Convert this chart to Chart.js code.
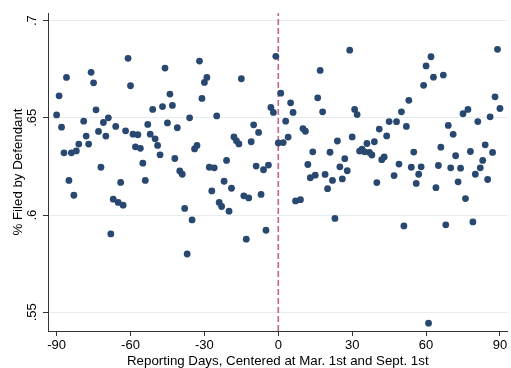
<!DOCTYPE html>
<html>
<head>
<meta charset="utf-8">
<script src="https://cdn.jsdelivr.net/npm/chart.js@4/dist/chart.umd.min.js"></script>
<style>
  html, body { margin: 0; padding: 0; background: #fff; }
  #wrap { width: 511px; height: 368px; }
</style>
</head>
<body>
<div id="wrap"><canvas id="filedChart" width="511" height="368"></canvas></div>
<script>
// reporting day relative to Mar. 1st / Sept. 1st
const days = [
    -90, -89, -88, -87, -86, -85, -84, -83, -82, -81, -79, -78, -77, -76, -75, -74,
    -73, -72, -71, -70, -69, -68, -67, -66, -65, -64, -63, -62, -61, -60, -59, -58,
    -57, -56, -55, -54, -53, -52, -51, -50, -49, -48, -47, -46, -45, -44, -43, -42,
    -41, -40, -39, -38, -37, -36, -35, -34, -33, -32, -31, -30, -29, -28, -27, -26,
    -25, -24, -23, -22, -21, -20, -19, -18, -17, -16, -15, -14, -13, -12, -11, -10,
    -9, -8, -7, -6, -5, -4, -3, -2, -1, 0,
    1, 2, 3, 4, 5, 6, 7, 9, 10, 11, 12, 13, 14, 15, 16, 17, 18, 19, 20, 21,
    22, 23, 24, 25, 26, 27, 28, 29, 30, 31, 32, 33, 34, 35, 36, 37, 38, 39, 40, 41,
    42, 43, 44, 45, 47, 48, 49, 50, 51, 52, 53, 54, 55, 56, 57, 58, 59, 60, 61, 62,
    63, 64, 65, 66, 67, 68, 69, 70, 71, 72, 73, 74, 75, 76, 77, 78, 79, 80, 81, 82,
    83, 84, 85, 86, 87, 88, 89, 90
];

// share of cases filed by the defendant on each day
const filedShare = [
    .6515, .6613, .6452, .632, .6708, .6178, .632, .6102, .633, .6365, .6483, .6406, .6365, .6734, .668, .6541,
    .643, .6246, .6476, .6406, .65, .5903, .6082, .6456, .6065, .6168, .6051, .6433, .6806, .6665, .6416, .6351,
    .6413, .6343, .6267, .6178, .6466, .6416, .6543, .6392, .6358, .631, .6558, .6756, .6474, .6622, .6564, .6291,
    .6449, .6227, .621, .6034, .58, .65, .5975, .634, .6358, .6792, .66, .6682, .6708, .6246, .6124, .6243,
    .651, .6065, .6044, .6174, .6281, .602, .6138, .6402, .6382, .6366, .6701, .6099, .5876, .6088, .6377, .6464,
    .6252, .6425, .6106, .6233, .5922, .6257, .6553, .6528, .6816, .6371,
    .6627, .6373, .6483, .6401, .6577, .6528, .6073, .6079, .6445, .6431, .626, .6192, .6325, .6205, .6603, .6744, .6531, .6209, .6136, .6323,
    .6178, .5983, .6381, .6248, .6186, .629, .6228, .6848, .6402, .6543, .6517, .6329, .6339, .6325, .6368, .6322, .6309, .6377, .6167, .6442,
    .6285, .6299, .6407, .6481, .6203, .648, .6262, .6531, .5944, .6456, .659, .6246, .6324, .6163, .621, .6248, .6667, .6767, .5444, .6814,
    .6709, .6141, .6255, .6349, .672, .595, .6461, .6243, .6415, .6305, .6171, .6241, .6521, .6085, .6543, .6327, .5965, .621, .6481, .6243,
    .6281, .6361, .6183, .6505, .6322, .6608, .6852, .6548
];

const xTicks = [-90, -60, -30, 0, 30, 60, 90];
const yTicks = [.55, .6, .65, .7];
const yTickLabels = ['.55', '.6', '.65', '.7'];

const xMin = -93.5, xMax = 93.1;
const yMin = .5404, yMax = .7039;

const font = { family: '"Liberation Sans", Arial, sans-serif', size: 13 };
const titleFont = { family: font.family, size: 13.3, lineHeight: 1 };

const points = days.map((d, i) => ({ x: d, y: filedShare[i] }));

const ctx = document.getElementById('filedChart').getContext('2d');
new Chart(ctx, {
    type: 'scatter',
    data: {
        datasets: [
            {
                label: 'Filed by defendant',
                data: points,
                backgroundColor: '#284870',
                borderWidth: 0,
                pointRadius: 3.4,
                pointHoverRadius: 3.4,
                order: 1
            },
            {
                // cutoff at day 0
                type: 'line',
                label: 'cutoff',
                data: [{ x: 0, y: yMin }, { x: 0, y: yMax }],
                borderColor: '#c8618a',
                borderWidth: 1.6,
                borderDash: [6, 3],
                pointRadius: 0,
                fill: false,
                order: 2
            }
        ]
    },
    options: {
        responsive: false,
        animation: false,
        events: [],
        layout: { padding: { top: 13, right: 0, left: 0, bottom: 0 } },
        plugins: {
            legend: { display: false },
            tooltip: { enabled: false }
        },
        scales: {
            x: {
                type: 'linear',
                min: xMin,
                max: xMax,
                afterBuildTicks: (scale) => { scale.ticks = xTicks.map(v => ({ value: v })); },
                afterFit: (scale) => { scale.height = 37; },
                grid: { drawOnChartArea: false, tickColor: '#333', tickLength: 5 },
                border: { color: '#333', width: 1 },
                ticks: { color: '#000', font: font, padding: 2, maxRotation: 0, minRotation: 0,
                         callback: (v) => String(v) },
                title: {
                    display: true,
                    text: 'Reporting Days, Centered at Mar. 1st and Sept. 1st',
                    color: '#000',
                    font: titleFont,
                    padding: { top: 0, bottom: 0.5 }
                }
            },
            y: {
                type: 'linear',
                min: yMin,
                max: yMax,
                afterBuildTicks: (scale) => { scale.ticks = yTicks.map(v => ({ value: v })); },
                afterFit: (scale) => { scale.width = 48; },
                grid: { color: '#e6edef', lineWidth: 1, tickColor: '#333', tickLength: 5 },
                border: { color: '#333', width: 1 },
                ticks: {
                    color: '#000',
                    font: font,
                    padding: 1.5,
                    minRotation: 90,
                    maxRotation: 90,
                    crossAlign: 'center',
                    callback: (v) => yTickLabels[yTicks.indexOf(v)]
                },
                title: {
                    display: true,
                    text: '% Filed by Defendant',
                    color: '#000',
                    font: titleFont,
                    padding: { top: 11.5, bottom: 0 }
                }
            }
        }
    }
});
</script>
</body>
</html>
